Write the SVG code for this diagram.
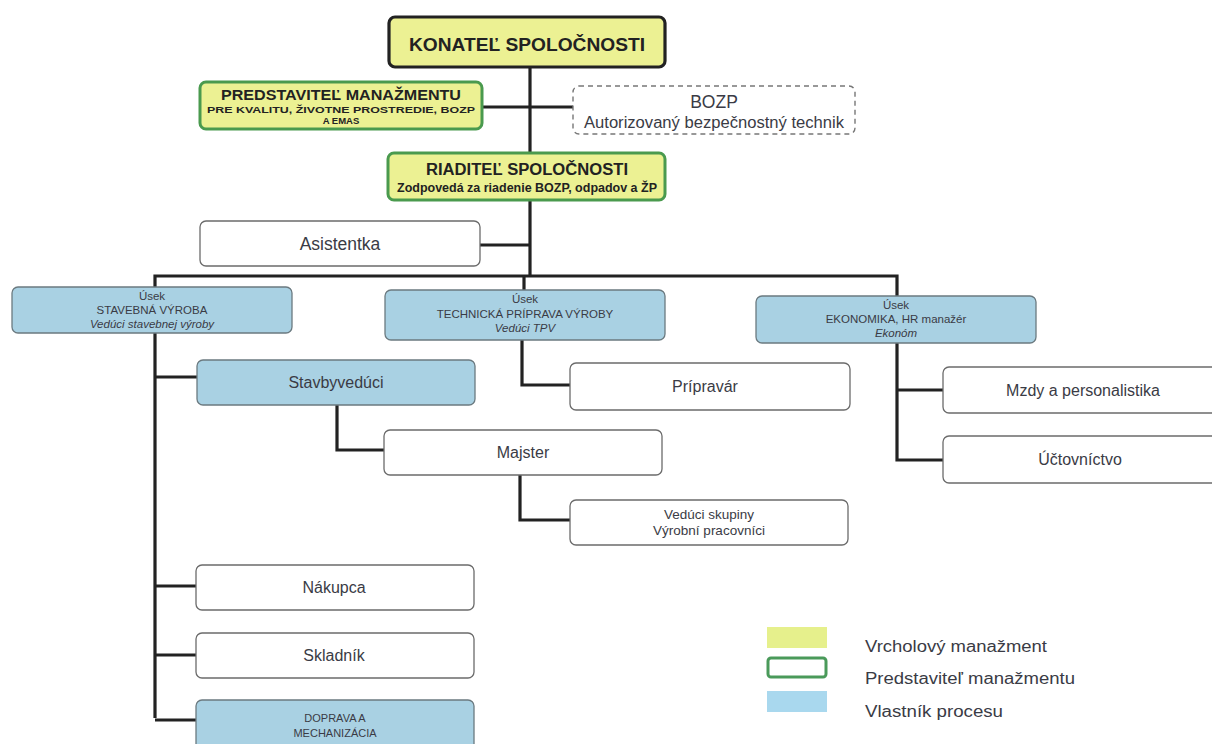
<svg xmlns="http://www.w3.org/2000/svg" width="1212" height="744" viewBox="0 0 1212 744">
<defs>
<style>
text{font-family:"Liberation Sans",Arial,sans-serif;fill:#3a3b45;text-anchor:middle}
text.l{text-anchor:start}
.w{fill:#ffffff;stroke:#6b6b6b;stroke-width:1.3}
.b{fill:#a9d1e3;stroke:#6b7a80;stroke-width:1.3}
.y{fill:#ecf193;stroke:#222;stroke-width:3.2}
.g{fill:#ecf193;stroke:#4a9a4e;stroke-width:3}
.d{fill:#fff;stroke:#777;stroke-width:1.4;stroke-dasharray:5 4}
.c{fill:none;stroke:#222;stroke-width:3.2}
.bold{font-weight:bold;fill:#222}
.s{font-size:11.5px}
.m{font-size:16px}
</style>
</defs>
<rect width="1212" height="744" fill="#ffffff"/>
<g id="connectors">
<path class="c" d="M530 67 V276"/>
<path class="c" d="M482 107 H573"/>
<path class="c" d="M480 245 H530"/>
<path class="c" d="M155 718 V276 H897 V297"/>
<path class="c" d="M524 276 V290"/>
<path class="c" d="M155 377 H197"/>
<path class="c" d="M337 405 V450 H384"/>
<path class="c" d="M520 475 V520 H570"/>
<path class="c" d="M522 340 V385 H570"/>
<path class="c" d="M897 343 V460 H943"/>
<path class="c" d="M897 390 H943"/>
<path class="c" d="M155 586 H196"/>
<path class="c" d="M155 655 H196"/>
<path class="c" d="M155 720 H196"/>
</g>
<g id="konatel">
<rect class="y" x="389" y="17" width="276" height="50" rx="6"/>
<text class="bold" x="527" y="51" font-size="19" textLength="236" lengthAdjust="spacingAndGlyphs">KONATEĽ SPOLOČNOSTI</text>
</g>
<g id="predstavitel">
<rect class="g" x="200" y="82" width="282" height="47" rx="6"/>
<text class="bold" x="341" y="100" font-size="14" textLength="240" lengthAdjust="spacingAndGlyphs">PREDSTAVITEĽ MANAŽMENTU</text>
<text class="bold" x="341" y="113" font-size="9.5" textLength="268" lengthAdjust="spacingAndGlyphs">PRE KVALITU, ŽIVOTNE PROSTREDIE, BOZP</text>
<text class="bold" x="341" y="124" font-size="9.5">A EMAS</text>
</g>
<g id="bozp">
<rect class="d" x="573" y="86" width="282" height="48" rx="6"/>
<text x="714" y="108" font-size="17.5">BOZP</text>
<text x="714" y="128" font-size="16" textLength="260" lengthAdjust="spacingAndGlyphs">Autorizovaný bezpečnostný technik</text>
</g>
<g id="riaditel">
<rect class="g" x="388" y="153" width="277" height="47" rx="6"/>
<text class="bold" x="527" y="175" font-size="16" textLength="202" lengthAdjust="spacingAndGlyphs">RIADITEĽ SPOLOČNOSTI</text>
<text class="bold" x="527" y="192" font-size="12" textLength="260" lengthAdjust="spacingAndGlyphs">Zodpovedá za riadenie BOZP, odpadov a ŽP</text>
</g>
<g id="asistentka">
<rect class="w" x="200" y="221" width="280" height="45" rx="6"/>
<text x="340" y="250" font-size="17.5">Asistentka</text>
</g>
<g id="stavebna">
<rect class="b" x="12" y="287" width="280" height="46" rx="6"/>
<text class="s" x="152" y="300">Úsek</text>
<text class="s" x="152" y="314">STAVEBNÁ VÝROBA</text>
<text class="s" x="152" y="328" font-style="italic">Vedúci stavebnej výroby</text>
</g>
<g id="technicka">
<rect class="b" x="385" y="290" width="280" height="50" rx="6"/>
<text class="s" x="525" y="303">Úsek</text>
<text class="s" x="525" y="318">TECHNICKÁ PRÍPRAVA VÝROBY</text>
<text class="s" x="525" y="332" font-style="italic">Vedúci TPV</text>
</g>
<g id="ekonomika">
<rect class="b" x="756" y="296" width="280" height="47" rx="6"/>
<text class="s" x="896" y="309">Úsek</text>
<text class="s" x="896" y="323">EKONOMIKA, HR manažér</text>
<text class="s" x="896" y="337" font-style="italic">Ekonóm</text>
</g>
<g id="stavbyveduci">
<rect class="b" x="197" y="360" width="278" height="45" rx="6"/>
<text class="m" x="336" y="388">Stavbyvedúci</text>
</g>
<g id="majster">
<rect class="w" x="384" y="430" width="278" height="45" rx="6"/>
<text class="m" x="523" y="458">Majster</text>
</g>
<g id="veduci">
<rect class="w" x="570" y="500" width="278" height="45" rx="6"/>
<text x="709" y="519" font-size="13.5">Vedúci skupiny</text>
<text x="709" y="535" font-size="13.5">Výrobní pracovníci</text>
</g>
<g id="pripravar">
<rect class="w" x="570" y="363" width="280" height="47" rx="6"/>
<text class="m" x="705" y="392">Prípravár</text>
</g>
<g id="mzdy">
<rect class="w" x="943" y="367" width="280" height="46" rx="6"/>
<text class="m" x="1083" y="396">Mzdy a personalistika</text>
</g>
<g id="uctovnictvo">
<rect class="w" x="943" y="436" width="280" height="47" rx="6"/>
<text class="m" x="1080" y="465">Účtovníctvo</text>
</g>
<g id="nakupca">
<rect class="w" x="196" y="565" width="278" height="45" rx="6"/>
<text class="m" x="334" y="593">Nákupca</text>
</g>
<g id="skladnik">
<rect class="w" x="196" y="633" width="278" height="45" rx="6"/>
<text class="m" x="334" y="661">Skladník</text>
</g>
<g id="doprava">
<rect class="b" x="196" y="700" width="278" height="50" rx="6"/>
<text x="335" y="722" font-size="11">DOPRAVA A</text>
<text x="335" y="737" font-size="11">MECHANIZÁCIA</text>
</g>
<g id="legend">
<rect x="767" y="627" width="60" height="21" fill="#e6f08c"/>
<rect x="768" y="658" width="58" height="19" rx="3" fill="#fff" stroke="#4a9a5a" stroke-width="3"/>
<rect x="767" y="691" width="60" height="21" fill="#a9d8ee"/>
<text class="l" x="865" y="652" font-size="16" textLength="182" lengthAdjust="spacingAndGlyphs">Vrcholový manažment</text>
<text class="l" x="865" y="684" font-size="16" textLength="210" lengthAdjust="spacingAndGlyphs">Predstaviteľ manažmentu</text>
<text class="l" x="865" y="717" font-size="16" textLength="138" lengthAdjust="spacingAndGlyphs">Vlastník procesu</text>
</g>
</svg>
